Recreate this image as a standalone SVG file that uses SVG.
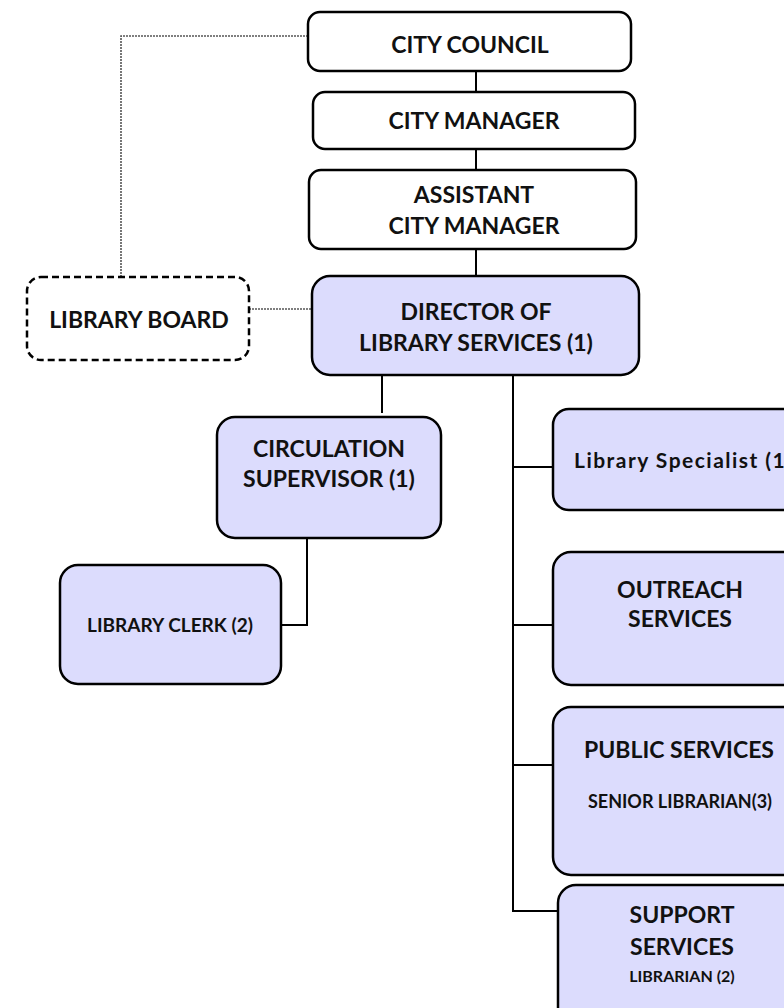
<svg xmlns="http://www.w3.org/2000/svg" width="784" height="1008" viewBox="0 0 784 1008">
<style>
.box{fill:#ffffff;stroke:#000;stroke-width:2.5}
.blue{fill:#dcdcfd;stroke:#000;stroke-width:2.5}
.dash{fill:#ffffff;stroke:#000;stroke-width:2.5;stroke-dasharray:7,4}
.t{font-family:Lato,"Open Sans",sans-serif;font-weight:700;fill:#111;text-anchor:middle}
.l{font-size:23px}
.c{font-size:19px}
.sp{font-size:21px}
.sr{font-size:18px}
.lb{font-size:16px}
.ln{stroke:#000;stroke-width:2;fill:none}
.dot{stroke:#555;stroke-width:1.6;fill:none;stroke-dasharray:2,1}
</style>
<g id="connectors">
<path class="dot" d="M121,277 V36 H308"/>
<path class="dot" d="M249,309 H312"/>
<path class="ln" d="M476,71 V92 M476,149 V170 M476,249 V276"/>
<path class="ln" d="M382,375 V413"/>
<path class="ln" d="M513,375 V911 H558 M513,467 H553 M513,625 H553 M513,765 H553"/>
<path class="ln" d="M307,538 V625 H281"/>
</g>
<g id="city-council"><rect class="box" x="308" y="12" width="323" height="59" rx="12"/><text class="t l" x="470" y="53">CITY COUNCIL</text></g>
<g id="city-manager"><rect class="box" x="313" y="92" width="322" height="57" rx="12"/><text class="t l" x="474" y="129">CITY MANAGER</text></g>
<g id="assistant-city-manager"><rect class="box" x="309" y="170" width="327" height="79" rx="12"/><text class="t l" x="474" y="203">ASSISTANT</text><text class="t l" x="474" y="234">CITY MANAGER</text></g>
<g id="library-board"><rect class="dash" x="27" y="277" width="222" height="83" rx="14"/><text class="t l" x="139" y="328">LIBRARY BOARD</text></g>
<g id="director"><rect class="blue" x="312" y="276" width="327" height="99" rx="18"/><text class="t l" x="476" y="320">DIRECTOR OF</text><text class="t l" x="476" y="351">LIBRARY SERVICES (1)</text></g>
<g id="circulation-supervisor"><rect class="blue" x="217" y="417" width="224" height="121" rx="18"/><text class="t l" x="329" y="457">CIRCULATION</text><text class="t l" x="329" y="487">SUPERVISOR (1)</text></g>
<g id="library-clerk"><rect class="blue" x="60" y="565" width="221" height="119" rx="18"/><text class="t c" x="170" y="632">LIBRARY CLERK (2)</text></g>
<g id="library-specialist"><rect class="blue" x="553" y="409" width="280" height="101" rx="16"/><text class="t sp" x="574" y="468" style="text-anchor:start" textLength="218" lengthAdjust="spacing">Library Specialist (1)</text></g>
<g id="outreach-services"><rect class="blue" x="553" y="552" width="280" height="133" rx="18"/><text class="t l" x="680" y="598">OUTREACH</text><text class="t l" x="680" y="627">SERVICES</text></g>
<g id="public-services"><rect class="blue" x="553" y="707" width="280" height="168" rx="18"/><text class="t l" x="679" y="758">PUBLIC SERVICES</text><text class="t sr" x="680" y="808">SENIOR LIBRARIAN(3)</text></g>
<g id="support-services"><rect class="blue" x="558" y="885" width="280" height="140" rx="18"/><text class="t l" x="682" y="923">SUPPORT</text><text class="t l" x="682" y="955">SERVICES</text><text class="t lb" x="682" y="982">LIBRARIAN (2)</text></g>
</svg>
